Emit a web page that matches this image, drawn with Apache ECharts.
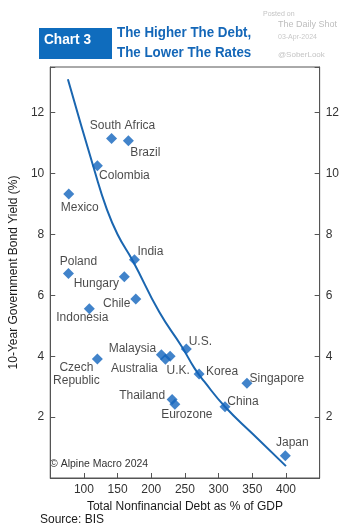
<!DOCTYPE html>
<html>
<head>
<meta charset="utf-8">
<script src="https://cdn.jsdelivr.net/npm/echarts@6/dist/echarts.min.js"></script>
<style>
html,body{margin:0;padding:0;background:#fff;}
#chart{width:342px;height:531px;}
</style>
</head>
<body>
<div id="chart"></div>
<script>
// ---- data ----
const countries = ['South Africa','Brazil','Colombia','Mexico','India','Poland','Hungary','Chile','Indonesia','Czech Republic','Malaysia','Australia','U.K.','U.S.','Korea','Singapore','Thailand','Eurozone','China','Japan'];
const debtPctGDP = [141, 166, 120, 77.5, 175, 77, 160, 177, 108, 120, 215, 221, 228, 252, 271, 342, 231, 235, 309.5, 399];
const bondYield = [11.15, 11.08, 10.26, 9.33, 7.17, 6.72, 6.61, 5.88, 5.56, 3.91, 4.05, 3.9, 4.0, 4.24, 3.42, 3.11, 2.58, 2.42, 2.34, 0.73];
const fitDebt = [76.2, 115.7, 133.3, 150, 172.9, 211.9, 245.2, 264.3, 278.6, 309.5, 350, 400];
const fitYield = [13.1, 10.1, 8.87, 8.0, 7.12, 5.45, 4.32, 3.6, 3.17, 2.34, 1.46, 0.39];
const xTicks = [100, 150, 200, 250, 300, 350, 400];
const yTicks = [2, 4, 6, 8, 10, 12];

// ---- layout: label offsets (px) relative to each marker ----
const labelOffset = {
  'South Africa':[11,-13], 'Brazil':[17,12], 'Colombia':[27,10], 'Mexico':[11,14],
  'India':[16,-8], 'Poland':[10,-12], 'Hungary':[-28,7], 'Chile':[-19,5],
  'Indonesia':[-7,9], 'Czech Republic':[-21,15], 'Malaysia':[-29,-6], 'Australia':[-31,9],
  'U.K.':[8,14], 'U.S.':[14,-7], 'Korea':[23,-2], 'Singapore':[30,-5],
  'Thailand':[-30,-4], 'Eurozone':[12,10], 'China':[18,-5], 'Japan':[7,-13]
};
const labelText = {'Czech Republic':'Czech\nRepublic'};

const BLUE = '#1264bd';
const FONT = 'Liberation Sans, Arial, sans-serif';

const scatterData = countries.map((c, i) => ({
  name: c,
  value: [debtPctGDP[i], bondYield[i]],
  label: {
    show: true,
    position: 'inside',
    offset: labelOffset[c],
    formatter: labelText[c] || c,
    color: '#1a1a1a',
    fontSize: 12,
    fontFamily: FONT,
    lineHeight: 13,
    align: 'center',
    verticalAlign: 'middle'
  }
}));
const fitData = fitDebt.map((d, i) => [d, fitYield[i]]);

const yAxisCommon = {
  type: 'value', min: 0, max: 13.5, interval: 2,
  axisLine: {show: true, lineStyle: {color: '#555', width: 1}},
  axisTick: {show: true, inside: true, length: 5, lineStyle: {color: '#555'}},
  splitLine: {show: false},
  axisLabel: {
    color: '#333', fontSize: 12, fontFamily: FONT, margin: 6,
    formatter: v => yTicks.includes(v) ? String(v) : ''
  }
};

const chart = echarts.init(document.getElementById('chart'), null, {renderer: 'canvas'});
chart.setOption({
  animation: false,
  backgroundColor: '#fff',
  grid: {left: 40, right: 21, top: 67, bottom: 53, show: true, borderColor: '#555', borderWidth: 1, backgroundColor: 'transparent'},
  xAxis: {
    type: 'value', min: 50, max: 450, interval: 50,
    name: 'Total Nonfinancial Debt as % of GDP',
    nameLocation: 'middle', nameGap: 20,
    nameTextStyle: {color: '#1a1a1a', fontSize: 12, fontFamily: FONT},
    axisLine: {show: true, lineStyle: {color: '#555'}},
    axisTick: {show: true, inside: true, length: 5, lineStyle: {color: '#555'}},
    splitLine: {show: false},
    axisLabel: {
      color: '#333', fontSize: 12, fontFamily: FONT, margin: 6,
      formatter: v => xTicks.includes(v) ? String(v) : ''
    }
  },
  yAxis: [
    Object.assign({}, yAxisCommon, {
      position: 'left',
      name: '10-Year Government Bond Yield (%)',
      nameLocation: 'middle', nameGap: 22,
      nameTextStyle: {color: '#1a1a1a', fontSize: 12, fontFamily: FONT}
    }),
    Object.assign({}, yAxisCommon, {position: 'right'})
  ],
  series: [
    {
      type: 'line', data: fitData, smooth: true, showSymbol: false, symbol: 'none',
      lineStyle: {color: '#1a66b0', width: 2}, z: 2, silent: true
    },
    {
      type: 'scatter', data: scatterData, symbol: 'diamond', symbolSize: 11,
      itemStyle: {color: BLUE}, z: 3
    }
  ],
  graphic: [
    {type: 'rect', left: 39, top: 28, shape: {width: 73, height: 31}, style: {fill: '#0f6cbd'}},
    {type: 'text', x: 44, y: 32, scaleX: 0.91, style: {text: 'Chart 3', fill: '#fff', font: 'bold 15px ' + FONT}},
    {type: 'text', x: 117, y: 25, scaleX: 0.89, style: {text: 'The Higher The Debt,', fill: '#1467b8', font: 'bold 15px ' + FONT}},
    {type: 'text', x: 117, y: 45, scaleX: 0.89, style: {text: 'The Lower The Rates', fill: '#1467b8', font: 'bold 15px ' + FONT}},
    {type: 'text', x: 263, y: 11, style: {text: 'Posted on', fill: '#c4c4c4', font: '7px ' + FONT}},
    {type: 'text', x: 278, y: 20, style: {text: 'The Daily Shot', fill: '#bdbdbd', font: '9px ' + FONT}},
    {type: 'text', x: 278, y: 34, style: {text: '03-Apr-2024', fill: '#c8c8c8', font: '7px ' + FONT}},
    {type: 'text', x: 278, y: 51, style: {text: '@SoberLook', fill: '#c4c4c4', font: '8px ' + FONT}},
    {type: 'text', x: 50, y: 459, style: {text: '\u00A9 Alpine Macro 2024', fill: '#333', font: '10.5px ' + FONT}},
    {type: 'text', x: 40, y: 514, style: {text: 'Source: BIS', fill: '#1a1a1a', font: '12px ' + FONT}}
  ]
});
</script>
</body>
</html>
